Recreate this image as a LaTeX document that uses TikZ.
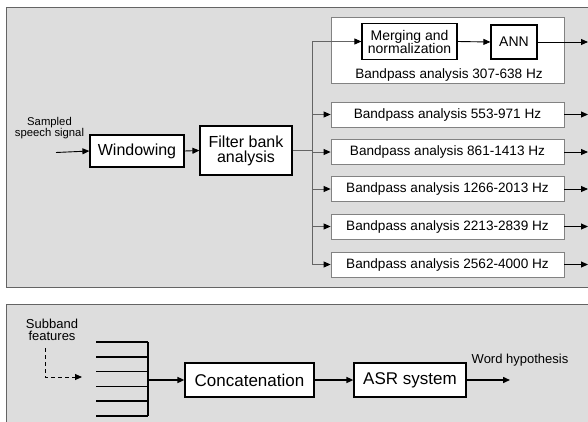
\documentclass[tikz,border=0pt]{standalone}
\usepackage{fontspec}
\setmainfont{Liberation Sans}
\usetikzlibrary{arrows.meta}
\definecolor{panelgray}{RGB}{221,221,221}
\definecolor{edgegray}{RGB}{100,100,100}
\definecolor{bandgray}{RGB}{130,130,130}
\newcommand{\fs}[1]{\fontsize{#1}{#1}\selectfont}

\begin{document}
\begin{tikzpicture}[x=1pt,y=-1pt,line cap=butt,line join=miter,
  every node/.style={inner sep=1pt},
  tip/.style={-{Triangle[length=7pt,width=6pt,color=black]}},
  panel/.style={draw=edgegray,fill=panelgray,line width=0.8pt},
  block/.style={draw=black,fill=white,line width=1.2pt,align=center},
  band/.style={draw=bandgray,fill=white,line width=0.8pt,minimum width=233pt,minimum height=25pt,font=\fs{13.6}},
  busline/.style={draw=edgegray,line width=0.8pt,tip},
  outline/.style={draw=black,line width=0.9pt,tip},
  thickline/.style={draw=black,line width=1.5pt}]
  \clip (0,0) rectangle (588,421);
  \path[fill=white] (0,0) rectangle (588,421);
  % panels
  \draw[panel] (6,7.5) rectangle (596,287);
  \draw[panel] (6,304) rectangle (596,430);

  % front end
  \node[align=center,font=\fs{11.3}] (speech) at (49.5,128) {Sampled\\speech signal};
  \coordinate (input) at (56,152.5);
  \node[block,minimum width=94pt,minimum height=32pt,font=\fs{16}] (win) at (137,151) {Windowing};
  \node[block,minimum width=92pt,minimum height=49pt,font=\fs{16}] (filter) at (246,150.5) {Filter bank\\[-1pt]analysis};
  \draw[outline] (input) -- (win.west);
  \draw[outline] (win.east) -- (filter.west);
  \coordinate (bus) at (312,150.5);
  \draw[edgegray,line width=0.8pt] (filter.east) -- (bus);

  % first band with ANN
  \node[draw=bandgray,fill=white,line width=0.8pt,minimum width=233pt,minimum height=66pt] (top) at (447.5,50) {};
  \node[block,minimum width=95pt,minimum height=36pt,font=\fs{14}] (merge) at (409.5,41.5) {Merging and\\[-1pt]normalization};
  \node[block,minimum width=46pt,minimum height=34pt,font=\fs{14}] (ann) at (514,42) {ANN};
  \node[font=\fs{13.6}] (toplabel) at (449,75) {Bandpass analysis 307-638 Hz};
  \coordinate (out0) at (588,42);
  \draw[busline] (bus) |- (merge.west);
  \draw[outline] (merge.east) -- (ann.west);
  \draw[outline] (ann.east) -- (out0);

  % other bands
  \node[band] (b1) at (447.5,114.5) {Bandpass analysis 553-971 Hz};
  \node[band] (b2) at (447.5,152) {Bandpass analysis 861-1413 Hz};
  \node[band] (b3) at (447.5,189) {Bandpass analysis 1266-2013 Hz};
  \node[band] (b4) at (447.5,226.5) {Bandpass analysis 2213-2839 Hz};
  \node[band] (b5) at (447.5,264.5) {Bandpass analysis 2562-4000 Hz};
  \foreach \b in {b1,b2,b3,b4,b5} {
    \coordinate (\b out) at (\b.east -| out0);
    \draw[busline] (bus) |- (\b.west);
    \draw[outline] (\b.east) -- (\b out);
  }

  % recognition stage
  \node[align=center,font=\fs{13}] (subband) at (52,330) {Subband\\[-1pt]features};
  \coordinate (dstart) at (45,348);
  \coordinate (dend) at (82,377);
  \draw[black,line width=0.9pt,dash pattern=on 4pt off 3pt,tip] (dstart) |- (dend);
  \foreach \y in {342,356.8,371.6,386.4,401.2,416}
    \draw[thickline] (96,\y) -- (148,\y);
  \draw[thickline] (148,342) -- (148,416);
  \coordinate (stack) at (148,380);
  \node[block,minimum width=129pt,minimum height=34pt,font=\fs{17}] (concat) at (249.5,380) {Concatenation};
  \node[block,minimum width=112pt,minimum height=34pt,font=\fs{17}] (asr) at (410,380) {ASR system};
  \coordinate (word) at (510,380);
  \node[font=\fs{13}] (wordlabel) at (520,360) {Word hypothesis};
  \draw[thickline,tip] (stack) -- (concat.west);
  \draw[thickline,tip] (concat.east) -- (asr.west);
  \draw[thickline,tip] (asr.east) -- (word);
\end{tikzpicture}
\end{document}
